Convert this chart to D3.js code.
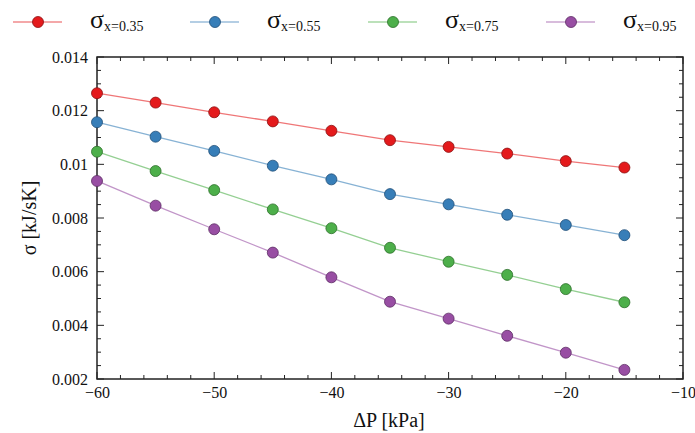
<!DOCTYPE html>
<html><head><meta charset="utf-8">
<script src="https://cdn.jsdelivr.net/npm/d3@7"></script>
<style>body{margin:0;background:#fff;} svg, svg text{font-family:"Liberation Serif","Times New Roman","DejaVu Serif",serif !important;}</style>
</head><body>
<svg id="chart" width="695" height="433"></svg>
<script>
const deltaP = [-60, -55, -50, -45, -40, -35, -30, -25, -20, -15];
const seriesNames = ["0.35", "0.55", "0.75", "0.95"];
const sigma035 = [0.01265, 0.01230, 0.01194, 0.01160, 0.01125, 0.01090, 0.01065, 0.01040, 0.01012, 0.00988];
const sigma055 = [0.01157, 0.01103, 0.01050, 0.00995, 0.00944, 0.00889, 0.00851, 0.00812, 0.00774, 0.00736];
const sigma075 = [0.01047, 0.00975, 0.00904, 0.00832, 0.00762, 0.00689, 0.00637, 0.00588, 0.00535, 0.00486];
const sigma095 = [0.00938, 0.00846, 0.00758, 0.00671, 0.00579, 0.00488, 0.00425, 0.00361, 0.00298, 0.00234];
const xTicks = [-60, -50, -40, -30, -20, -10];
const yTicks = [0.002, 0.004, 0.006, 0.008, 0.010, 0.012, 0.014];
const yTickLabels = ["0.002", "0.004", "0.006", "0.008", "0.01", "0.012", "0.014"];
const colors = ["#e41a1c", "#377eb8", "#4daf4a", "#984ea3"];
const strokes = ["#8a1012", "#1f4e77", "#2c6e2a", "#5c2c63"];

const allSeries = [sigma035, sigma055, sigma075, sigma095];
const svg = d3.select("#chart");
const L = 97, R = 683, T = 57, B = 379;
const x = d3.scaleLinear().domain([-60, -10]).range([L, R]);
const y = d3.scaleLinear().domain([0.002, 0.014]).range([B, T]);

const g = svg.append("g");
const axisColor = "#222";
const xMinor = d3.range(-60, -9.99, 2);
const yMinor = d3.range(0.002, 0.01401, 0.0005);
xMinor.forEach(v => {
  const major = xTicks.some(t => Math.abs(t - v) < 1e-9);
  const len = major ? 7 : 4;
  g.append("line").attr("x1", x(v)).attr("x2", x(v)).attr("y1", B).attr("y2", B - len).attr("stroke", axisColor).attr("stroke-width", 1);
  g.append("line").attr("x1", x(v)).attr("x2", x(v)).attr("y1", T).attr("y2", T + len).attr("stroke", axisColor).attr("stroke-width", 1);
});
yMinor.forEach(v => {
  const major = yTicks.some(t => Math.abs(t - v) < 1e-9);
  const len = major ? 7 : 4;
  g.append("line").attr("y1", y(v)).attr("y2", y(v)).attr("x1", L).attr("x2", L + len).attr("stroke", axisColor).attr("stroke-width", 1);
  g.append("line").attr("y1", y(v)).attr("y2", y(v)).attr("x1", R).attr("x2", R - len).attr("stroke", axisColor).attr("stroke-width", 1);
});
g.append("rect").attr("x", L).attr("y", T).attr("width", R - L).attr("height", B - T)
  .attr("fill", "none").attr("stroke", axisColor).attr("stroke-width", 1.5);

const xAxis = d3.axisBottom(x).tickValues(xTicks).tickSize(0).tickPadding(8);
svg.append("g").attr("transform", `translate(0,${B})`).call(xAxis)
  .call(s => s.select(".domain").remove())
  .selectAll("text").attr("font-size", 16).attr("fill", "#111");
const yAxis = d3.axisLeft(y).tickValues(yTicks).tickFormat((d, i) => yTickLabels[i]).tickSize(0).tickPadding(9);
svg.append("g").attr("transform", `translate(${L},0)`).call(yAxis)
  .call(s => s.select(".domain").remove())
  .selectAll("text").attr("font-size", 16).attr("fill", "#111");

svg.append("text").attr("x", 389).attr("y", 427).attr("text-anchor", "middle")
  .attr("font-size", 20).attr("fill", "#111").text("ΔP [kPa]");
svg.append("text").attr("transform", `translate(36,${(T + B) / 2}) rotate(-90)`).attr("text-anchor", "middle")
  .attr("font-size", 20).attr("fill", "#111").text("σ [kJ/sK]");

const line = d3.line().x((d, i) => x(deltaP[i])).y(d => y(d));
allSeries.forEach((vals, k) => {
  svg.append("path").datum(vals).attr("d", line).attr("fill", "none")
    .attr("stroke", colors[k]).attr("stroke-opacity", 0.6).attr("stroke-width", 1.3);
  svg.selectAll(null).data(vals).enter().append("circle")
    .attr("cx", (d, i) => x(deltaP[i])).attr("cy", d => y(d)).attr("r", 5.5)
    .attr("fill", colors[k]).attr("stroke", strokes[k]).attr("stroke-width", 0.8);
});

const legX = [38, 215, 393, 571];
seriesNames.forEach((n, k) => {
  const lg = svg.append("g").attr("transform", `translate(${legX[k]},22)`);
  lg.append("line").attr("x1", -25).attr("x2", 24).attr("y1", 0).attr("y2", 0)
    .attr("stroke", colors[k]).attr("stroke-opacity", 0.5).attr("stroke-width", 1.5);
  lg.append("circle").attr("r", 5.5).attr("fill", colors[k]).attr("stroke", strokes[k]).attr("stroke-width", 0.8);
  const t = lg.append("text").attr("x", 52).attr("y", 6).attr("fill", "#111");
  t.append("tspan").attr("font-size", 26).text("σ");
  t.append("tspan").attr("font-size", 14).attr("dy", 3).text("x=" + n);
});
</script>
</body></html>
